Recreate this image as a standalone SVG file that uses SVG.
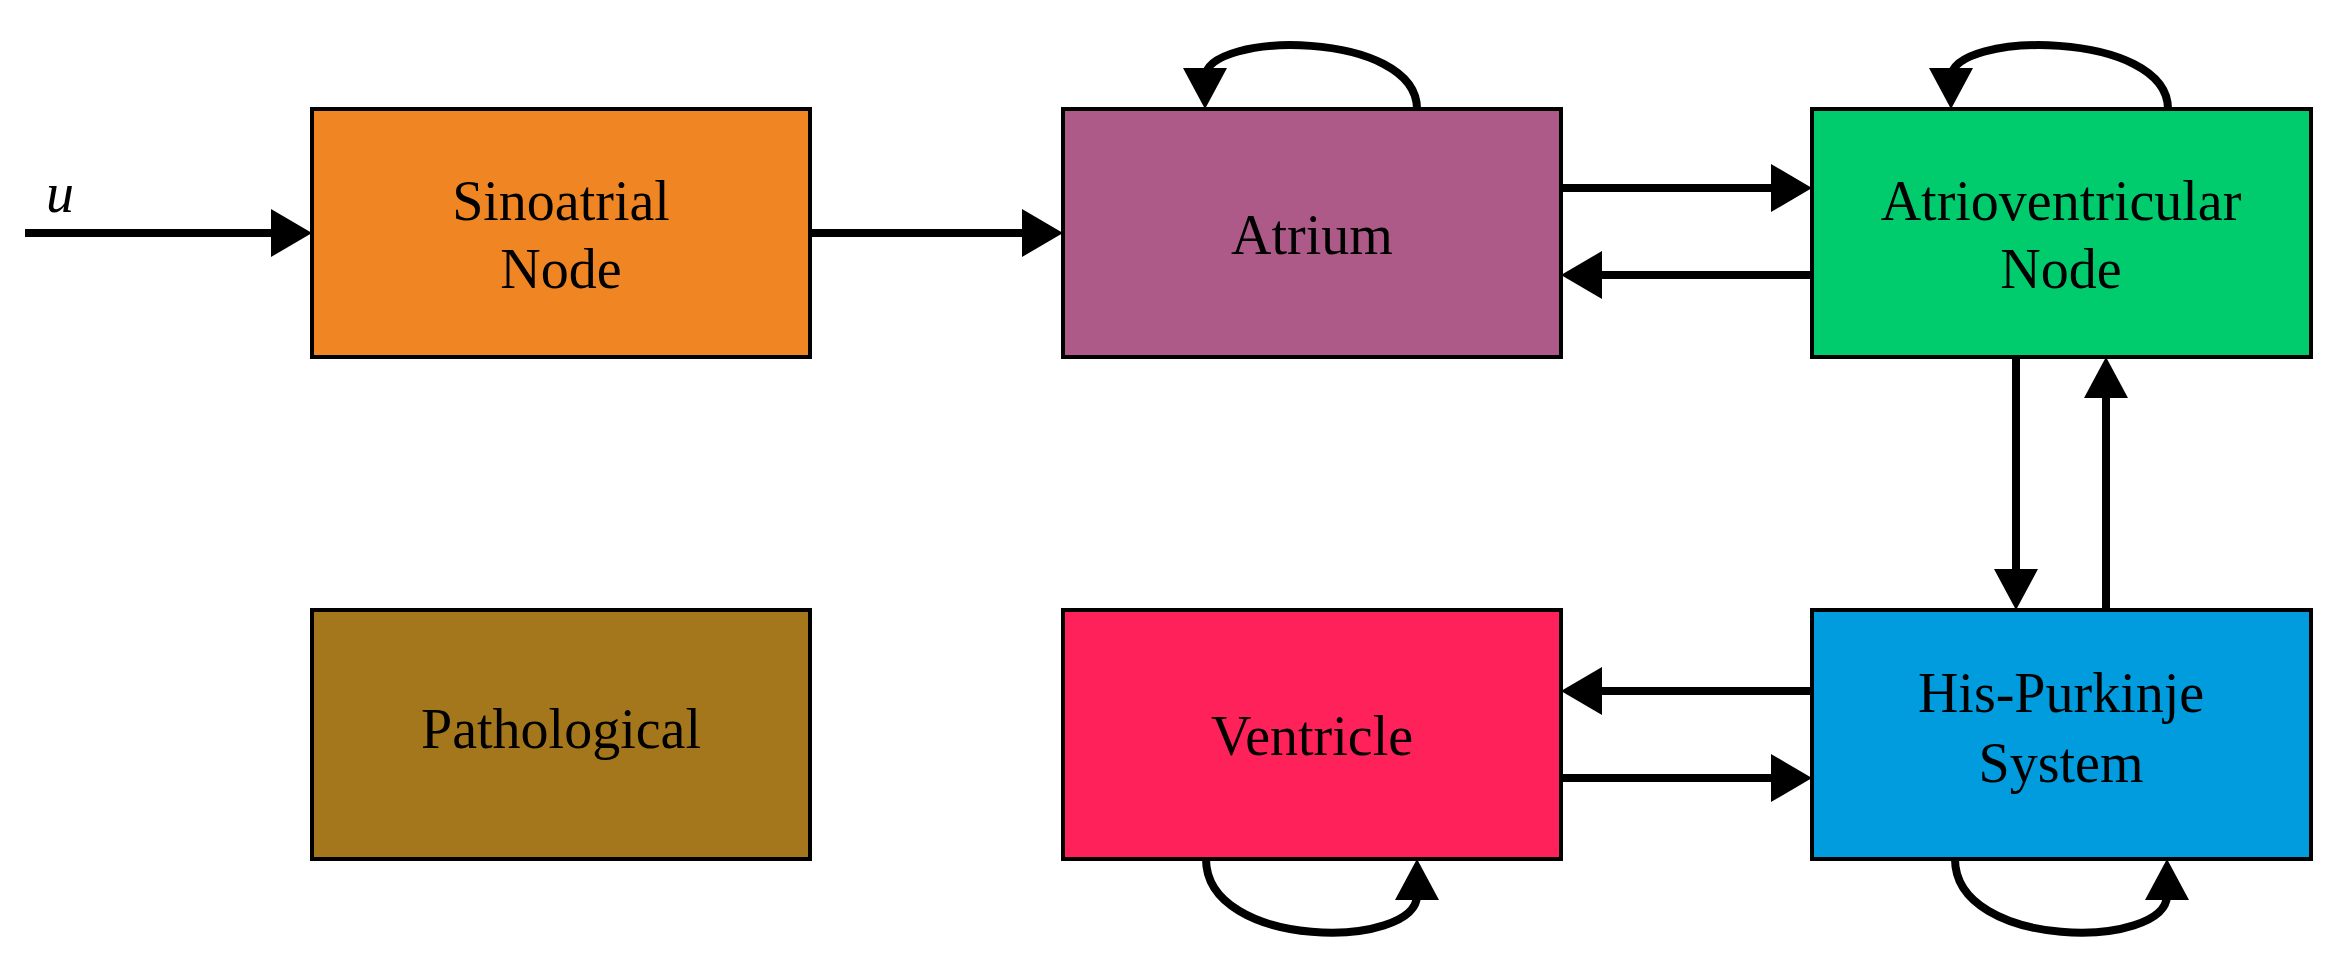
<svg xmlns="http://www.w3.org/2000/svg" width="2344" height="960" viewBox="0 0 2344 960">
<style>
.box{stroke:#000;stroke-width:4}
.t{font-family:"Liberation Serif",serif;font-size:56px;text-anchor:middle;fill:#000}
.c{stroke:#000;stroke-width:8;fill:none}
</style>
<rect width="2344" height="960" fill="#fff"/>
<g id="sa"><rect class="box" x="312" y="109" width="498" height="248" fill="#F08523"/><text class="t" x="561" y="220">Sinoatrial</text><text class="t" x="561" y="288">Node</text></g>
<g id="atrium"><rect class="box" x="1063" y="109" width="498" height="248" fill="#AD5A88"/><text class="t" x="1312" y="254">Atrium</text></g>
<g id="av"><rect class="box" x="1812" y="109" width="499" height="248" fill="#00CC6E"/><text class="t" x="2061" y="220">Atrioventricular</text><text class="t" x="2061" y="288">Node</text></g>
<g id="path"><rect class="box" x="312" y="610" width="498" height="249" fill="#A5771D"/><text class="t" x="561" y="748">Pathological</text></g>
<g id="ventricle"><rect class="box" x="1063" y="610" width="498" height="249" fill="#FF225A"/><text class="t" x="1312" y="755">Ventricle</text></g>
<g id="hp"><rect class="box" x="1812" y="610" width="499" height="249" fill="#009CDD"/><text class="t" x="2061" y="712">His-Purkinje</text><text class="t" x="2061" y="782">System</text></g>
<g id="connectors">
<text x="46" y="212" style="font-family:'Liberation Serif',serif;font-size:56px;font-style:italic">u</text>
<line class="c" x1="25" y1="233" x2="275" y2="233"/><polygon points="312,233 271,209 271,257"/>
<line class="c" x1="810" y1="233" x2="1025" y2="233"/><polygon points="1063,233 1022,209 1022,257"/>
<line class="c" x1="1561" y1="188" x2="1775" y2="188"/><polygon points="1812,188 1771,164 1771,212"/>
<line class="c" x1="1812" y1="275" x2="1600" y2="275"/><polygon points="1561,275 1602,251 1602,299"/>
<line class="c" x1="2016" y1="357" x2="2016" y2="572"/><polygon points="2016,610 1994,569 2038,569"/>
<line class="c" x1="2106" y1="610" x2="2106" y2="395"/><polygon points="2106,357 2084,398 2128,398"/>
<line class="c" x1="1812" y1="691" x2="1600" y2="691"/><polygon points="1561,691 1602,667 1602,715"/>
<line class="c" x1="1561" y1="778" x2="1775" y2="778"/><polygon points="1812,778 1771,754 1771,802"/>
<path class="c" d="M1417 109 C1417 30 1205 30 1205 78"/><polygon points="1205,109 1183,68 1227,68"/>
<path class="c" d="M2168 109 C2168 30 1951 30 1951 78"/><polygon points="1951,109 1929,68 1973,68"/>
<path class="c" d="M1206 859 C1206 950 1417 950 1417 895"/><polygon points="1417,859 1395,900 1439,900"/>
<path class="c" d="M1955 859 C1955 950 2167 950 2167 895"/><polygon points="2167,859 2145,900 2189,900"/>
</g>
</svg>
